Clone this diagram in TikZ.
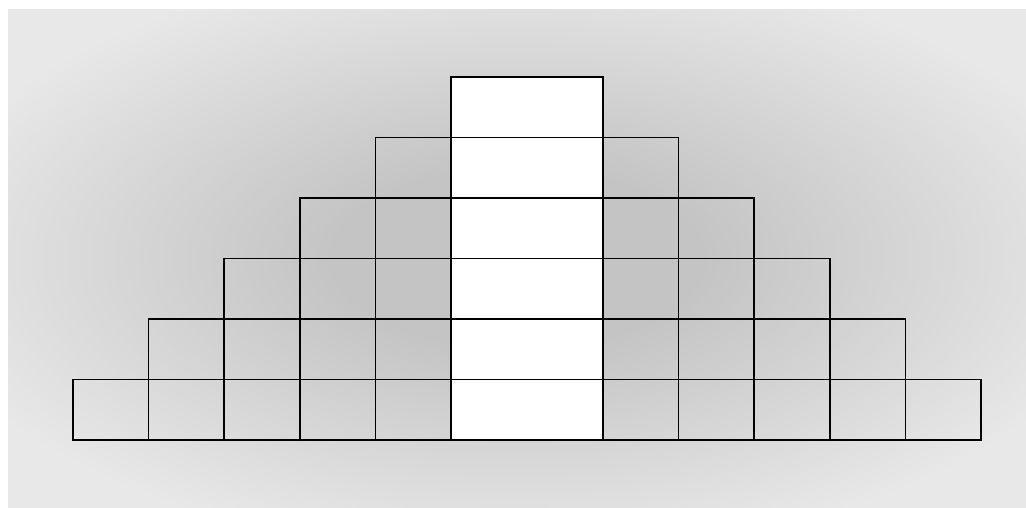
\documentclass[tikz,border=0pt]{standalone}
\usetikzlibrary{positioning}
\definecolor{glowdark}{HTML}{C4C4C4}
\definecolor{glowlight}{HTML}{E8E8E8}
\pgfdeclareradialshading{pyramidglow}{\pgfpoint{0bp}{0bp}}{color(0bp)=(glowdark); color(9bp)=(glowdark); color(30bp)=(glowlight); color(100bp)=(glowlight)}
\begin{document}
\begin{tikzpicture}[x=0.3mm, y=-0.3mm, every node/.style={draw, line width=1.4pt, inner sep=0pt, minimum height=18.15mm}, cell/.style={minimum width=22.68mm}, core/.style={minimum width=45.6mm, fill=white}]
\useasboundingbox (0,0) rectangle (1026,507);
\shade[shading=pyramidglow] (8,9) rectangle (1026,507);
\foreach \d in {1,...,5}
  \foreach \r in {\d,...,5} {
    \node[cell] (left-\d-\r) at ({451-75.6*(\d-0.5)},{107.25+60.5*\r}) {};
    \node[cell] (right-\d-\r) at ({603+75.6*(\d-0.5)},{107.25+60.5*\r}) {};
  }
\foreach \r in {1,...,6}
  \node[core] (core-\r) at (527,{46.75+60.5*\r}) {};
\end{tikzpicture}
\end{document}
